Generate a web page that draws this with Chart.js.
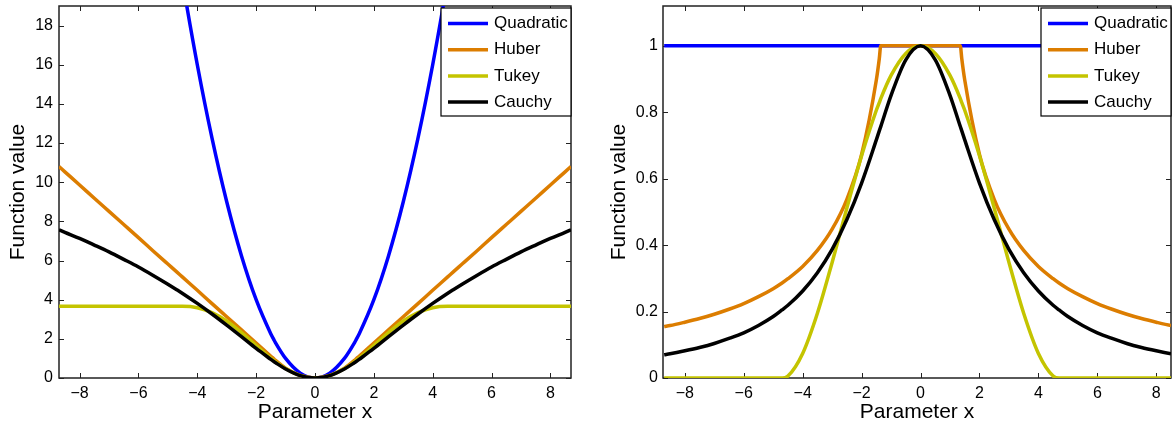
<!DOCTYPE html>
<html>
<head>
<meta charset="utf-8">
<script src="https://cdn.jsdelivr.net/npm/chart.js@4"></script>
<style>
  body { margin: 0; background: #fff; }
  .panel { position: absolute; top: 0; width: 587px; height: 425px; }
</style>
</head>
<body>
<div class="panel" style="left:0"><canvas id="lossChart"></canvas></div>
<div class="panel" style="left:587px"><canvas id="weightChart"></canvas></div>
<script>
// data
const xValues = [-8.7, -8.5, -8, -7.5, -7, -6.5, -6, -5.5, -5, -4.7, -4.5, -4, -3.5, -3, -2.5, -2, -1.5, -1.4, -1.35, -1, -0.5,
  0, 0.5, 1, 1.35, 1.4, 1.5, 2, 2.5, 3, 3.5, 4, 4.5, 4.7, 5, 5.5, 6, 6.5, 7, 7.5, 8, 8.5, 8.7];

const seriesNames = ['Quadratic', 'Huber', 'Tukey', 'Cauchy'];
const seriesColors = ['#0000ff', '#dc7d00', '#c4c400', '#000000'];

// left panel: loss
const quadraticLoss = [null, null, null, null, null, null, null, null, null, 22.09, 20.25, 16, 12.25, 9, 6.25, 4, 2.25, 1.96, 1.82, 1, 0.25,
  0, 0.25, 1, 1.82, 1.96, 2.25, 4, 6.25, 9, 12.25, 16, 20.25, 22.09, null, null, null, null, null, null, null, null, null];
const huberLoss = [10.8, 10.53, 9.86, 9.18, 8.51, 7.84, 7.17, 6.49, 5.82, 5.42, 5.15, 4.48, 3.8, 3.13, 2.46, 1.79, 1.11, 0.98, 0.91, 0.5, 0.13,
  0, 0.13, 0.5, 0.91, 0.98, 1.11, 1.79, 2.46, 3.13, 3.8, 4.48, 5.15, 5.42, 5.82, 6.49, 7.17, 7.84, 8.51, 9.18, 9.86, 10.53, 10.8];
const tukeyLoss = [3.66, 3.66, 3.66, 3.66, 3.66, 3.66, 3.66, 3.66, 3.66, 3.66, 3.66, 3.59, 3.34, 2.91, 2.32, 1.66, 1.01, 0.9, 0.84, 0.48, 0.12,
  0, 0.12, 0.48, 0.84, 0.9, 1.01, 1.66, 2.32, 2.91, 3.34, 3.59, 3.66, 3.66, 3.66, 3.66, 3.66, 3.66, 3.66, 3.66, 3.66, 3.66, 3.66];
const cauchyLoss = [7.57, 7.44, 7.13, 6.79, 6.44, 6.06, 5.67, 5.24, 4.79, 4.51, 4.32, 3.81, 3.27, 2.7, 2.11, 1.51, 0.95, 0.84, 0.79, 0.46, 0.12,
  0, 0.12, 0.46, 0.79, 0.84, 0.95, 1.51, 2.11, 2.7, 3.27, 3.81, 4.32, 4.51, 4.79, 5.24, 5.67, 6.06, 6.44, 6.79, 7.13, 7.44, 7.57];

// right panel: weight
const quadraticWeight = [1, 1, 1, 1, 1, 1, 1, 1, 1, 1, 1, 1, 1, 1, 1, 1, 1, 1, 1, 1, 1,
  1, 1, 1, 1, 1, 1, 1, 1, 1, 1, 1, 1, 1, 1, 1, 1, 1, 1, 1, 1, 1, 1];
const huberWeight = [0.155, 0.158, 0.168, 0.179, 0.192, 0.207, 0.224, 0.245, 0.269, 0.286, 0.299, 0.336, 0.384, 0.448, 0.538, 0.673, 0.897, 0.961, 1, 1, 1,
  1, 1, 1, 1, 0.961, 0.897, 0.673, 0.538, 0.448, 0.384, 0.336, 0.299, 0.286, 0.269, 0.245, 0.224, 0.207, 0.192, 0.179, 0.168, 0.158, 0.155];
const tukeyWeight = [0, 0, 0, 0, 0, 0, 0, 0, 0, 0, 0.006, 0.074, 0.195, 0.348, 0.512, 0.669, 0.806, 0.829, 0.841, 0.911, 0.977,
  1, 0.977, 0.911, 0.841, 0.829, 0.806, 0.669, 0.512, 0.348, 0.195, 0.074, 0.006, 0, 0, 0, 0, 0, 0, 0, 0, 0, 0];
const cauchyWeight = [0.07, 0.073, 0.082, 0.092, 0.104, 0.119, 0.136, 0.158, 0.185, 0.205, 0.219, 0.262, 0.317, 0.387, 0.477, 0.587, 0.717, 0.744, 0.757, 0.851, 0.958,
  1, 0.958, 0.851, 0.757, 0.744, 0.717, 0.587, 0.477, 0.387, 0.317, 0.262, 0.219, 0.205, 0.185, 0.158, 0.136, 0.119, 0.104, 0.092, 0.082, 0.073, 0.07];

const xTicks = [-8, -6, -4, -2, 0, 2, 4, 6, 8];
const FONT = '"Liberation Sans", Arial, Helvetica, sans-serif';

function makeDatasets(seriesList) {
  return seriesList.map((vals, i) => ({
    label: seriesNames[i],
    data: xValues.map((x, j) => ({ x: x, y: vals[j] })),
    borderColor: seriesColors[i],
    backgroundColor: seriesColors[i],
    borderWidth: 3.5,
    pointRadius: 0,
    cubicInterpolationMode: 'monotone',
    capBezierPoints: false,
    order: seriesList.length - i
  }));
}

function fmt(v) {
  const s = String(Math.round(v * 10) / 10);
  return v < 0 ? '\u2212' + s.slice(1) : s;
}

// box round the plot with inward ticks on all four sides
const framePlugin = {
  id: 'frame',
  beforeDatasetsDraw(chart) {
    const { ctx, chartArea: a, scales: { x, y } } = chart;
    ctx.save();
    ctx.strokeStyle = '#222';
    ctx.lineWidth = 1;
    ctx.beginPath();
    x.ticks.forEach(t => {
      const px = Math.round(x.getPixelForValue(t.value)) + 0.5;
      ctx.moveTo(px, a.bottom); ctx.lineTo(px, a.bottom - 5);
      ctx.moveTo(px, a.top); ctx.lineTo(px, a.top + 5);
    });
    y.ticks.forEach(t => {
      const py = Math.round(y.getPixelForValue(t.value)) + 0.5;
      ctx.moveTo(a.left, py); ctx.lineTo(a.left + 5, py);
      ctx.moveTo(a.right, py); ctx.lineTo(a.right - 5, py);
    });
    ctx.stroke();
    ctx.lineWidth = 1.5;
    ctx.strokeRect(a.left, a.top, a.right - a.left, a.bottom - a.top);
    ctx.restore();
  }
};

// boxed legend in the top right corner
const boxLegendPlugin = {
  id: 'boxLegend',
  afterDraw(chart) {
    const { ctx, chartArea: a } = chart;
    const w = 130, h = 108;
    const left = a.right - w, top = a.top + 2;
    ctx.save();
    ctx.fillStyle = '#fff';
    ctx.fillRect(left, top, w, h);
    ctx.strokeStyle = '#000';
    ctx.lineWidth = 1.2;
    ctx.strokeRect(left, top, w, h);
    ctx.font = '17px ' + FONT;
    ctx.textBaseline = 'middle';
    chart.data.datasets.forEach((ds, i) => {
      const cy = top + 15.5 + i * 26.2;
      ctx.strokeStyle = ds.borderColor;
      ctx.lineWidth = 3.5;
      ctx.beginPath();
      ctx.moveTo(left + 7, cy);
      ctx.lineTo(left + 47, cy);
      ctx.stroke();
      ctx.fillStyle = '#000';
      ctx.fillText(ds.label, left + 53, cy);
    });
    ctx.restore();
  }
};

function makeConfig(datasets, opts) {
  return {
    type: 'line',
    data: { datasets },
    options: {
      responsive: true,
      maintainAspectRatio: false,
      animation: false,
      layout: { padding: { top: 6, right: opts.padRight, left: 0, bottom: 0 } },
      plugins: { legend: { display: false }, tooltip: { enabled: false } },
      scales: {
        x: {
          type: 'linear',
          min: opts.xMin,
          max: opts.xMax,
          grid: { display: false, drawTicks: false },
          border: { display: false },
          afterBuildTicks: s => { s.ticks = xTicks.map(v => ({ value: v })); },
          ticks: { padding: 6, color: '#000', maxRotation: 0, autoSkip: false, font: { size: 16, family: FONT }, callback: fmt },
          title: { display: true, text: 'Parameter x', color: '#000', font: { size: 21, family: FONT }, padding: { top: 0, bottom: 0 } },
          afterFit: s => { s.height = 47; s.paddingLeft = 0; s.paddingRight = 0; }
        },
        y: {
          min: 0,
          max: opts.yMax,
          grid: { display: false, drawTicks: false },
          border: { display: false },
          afterBuildTicks: s => { s.ticks = opts.yTicks.map(v => ({ value: v })); },
          ticks: { padding: opts.yPad, color: '#000', font: { size: 16, family: FONT }, callback: fmt },
          title: { display: true, text: 'Function value', color: '#000', font: { size: 21, family: FONT }, padding: { top: opts.titlePad, bottom: 0 } },
          afterFit: s => { s.width = opts.yWidth; s.paddingTop = 0; s.paddingBottom = 0; }
        }
      }
    },
    plugins: [framePlugin, boxLegendPlugin]
  };
}

new Chart(document.getElementById('lossChart'), makeConfig(
  makeDatasets([quadraticLoss, huberLoss, tukeyLoss, cauchyLoss]),
  { xMin: -8.7, xMax: 8.7, yMax: 19, yTicks: [0, 2, 4, 6, 8, 10, 12, 14, 16, 18], yWidth: 59, yPad: 6, titlePad: 6, padRight: 16 }
));

new Chart(document.getElementById('weightChart'), makeConfig(
  makeDatasets([quadraticWeight, huberWeight, tukeyWeight, cauchyWeight]),
  { xMin: -8.74, xMax: 8.5, yMax: 1.12, yTicks: [0, 0.2, 0.4, 0.6, 0.8, 1], yWidth: 76, yPad: 5, titlePad: 20, padRight: 3 }
));
</script>
</body>
</html>
